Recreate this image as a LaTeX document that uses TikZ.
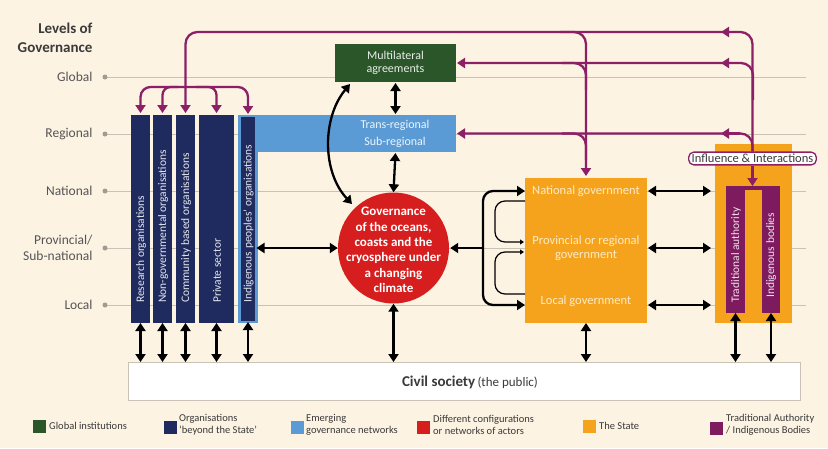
\documentclass[tikz,border=0pt]{standalone}
\usepackage{fontspec}
\setmainfont{Carlito}
\usetikzlibrary{arrows.meta}
\definecolor{cream}{HTML}{FCF3E3}
\definecolor{navy}{HTML}{1F2B5E}
\definecolor{ggreen}{HTML}{2B5629}
\definecolor{lblue}{HTML}{5B9BD5}
\definecolor{cred}{HTML}{D71E1E}
\definecolor{corange}{HTML}{F5A31C}
\definecolor{cpurple}{HTML}{7E1A5E}
\definecolor{mag}{HTML}{8C1F66}
\definecolor{lvline}{HTML}{C9C2B6}
\definecolor{lvtext}{HTML}{555555}
\definecolor{lgtext}{HTML}{3A3A3A}
\definecolor{statetext}{HTML}{FDEBC8}
\begin{document}
\begin{tikzpicture}[x=1pt,y=-1pt,
  box/.style={rectangle, inner sep=0pt, outer sep=0pt, anchor=north west},
  bartext/.style={rotate=90, anchor=west, inner sep=0pt, text=white!88!navy, font=\fontsize{11.5}{13}\selectfont},
  lvlabel/.style={anchor=east, align=right, text=lvtext, font=\fontsize{13.5}{16}\selectfont},
  lvdot/.style={circle, fill=lvline!80!black, inner sep=0pt, minimum size=5pt},
  bb/.style={line width=2.3pt, {Triangle[width=10pt,length=8pt]}-{Triangle[width=10pt,length=8pt]}},
  b1/.style={line width=2.3pt, -{Triangle[width=10pt,length=8pt]}},
  thinarr/.style={line width=1.2pt, -{Triangle[width=5pt,length=4pt]}},
  mg/.style={draw=mag, line width=2.3pt},
  mgA/.style={mg, -{Triangle[width=10pt,length=8pt]}},
  lgsq/.style={rectangle, inner sep=0pt, minimum size=13pt},
  lgtxt/.style={anchor=west, align=left, text=lgtext, inner sep=0pt, font=\fontsize{10.5}{12}\selectfont},
  statetxt/.style={text=statetext, align=center, font=\fontsize{12.5}{13.5}\selectfont}
]
\fill[cream] (0,0) rectangle (828,448);
\useasboundingbox (0,0) rectangle (828,448);

% levels of governance
\node[anchor=east, align=right, text=lgtext, font=\fontsize{15}{19.5}\selectfont\bfseries] (title) at (96,38) {Levels of\\Governance};
\coordinate (Lglobal) at (105,77);
\coordinate (Lreg) at (105,134);
\coordinate (Lnat) at (105,191);
\coordinate (Lprov) at (105,248);
\coordinate (Lloc) at (105,305);
\coordinate (top) at (0,32);
\foreach \c in {Lglobal,Lreg,Lnat,Lprov,Lloc}{
  \draw[lvline, line width=0.9pt] (\c) -- (\c -| 806,0);
  \node[lvdot] at (\c) {};
}
\node[lvlabel] (tglobal) at (96,77) {Global};
\node[lvlabel] (treg) at (96,134) {Regional};
\node[lvlabel] (tnat) at (96,191) {National};
\node[lvlabel] (tprov) at (96,248) {Provincial/\\Sub-national};
\node[lvlabel] (tloc) at (96,305) {Local};

% organisations beyond the state
\node[box, fill=navy, minimum width=19pt, minimum height=208pt] (b1) at (131,115) {};
\node[box, fill=navy, minimum width=19pt, minimum height=208pt] (b2) at (153,115) {};
\node[box, fill=navy, minimum width=19pt, minimum height=208pt] (b3) at (176,115) {};
\node[box, fill=navy, minimum width=35pt, minimum height=208pt] (b4) at (199,115) {};
% emerging networks band
\node[box, fill=lblue, minimum width=218pt, minimum height=37pt] (tr) at (238,115) {};
\node[box, fill=navy, draw=lblue, line width=2.4pt, minimum width=17pt, minimum height=206pt] (b5) at (239.5,116) {};
\node[text=white!90!lblue, align=center, font=\fontsize{12}{17.5}\selectfont] (trtxt) at (395,134) {Trans-regional\\Sub-regional};

\node[bartext] (t1) at (141,303) {Research organisations};
\node[bartext] (t2) at (163,303) {Non-governmental organisations};
\node[bartext] (t3) at (186,303) {Community based organisations};
\node[bartext] (t4) at (217,303) {Private sector};
\node[bartext] (t5) at (248.5,303) {Indigenous peoples' organisations};

% global institutions
\node[box, fill=ggreen, minimum width=121pt, minimum height=38pt] (ma) at (335,44) {};
\node[text=white!90!ggreen, align=center, font=\fontsize{12}{13.5}\selectfont] (matxt) at (ma.center) {Multilateral\\agreements};

% central circle
\node[circle, fill=cred, minimum size=111pt, inner sep=0pt] (circ) at (393.5,248) {};
\node[text=white, align=center, font=\fontsize{13}{15.4}\selectfont\bfseries] (circtxt) at (393.5,250) {Governance\\of the oceans,\\coasts and the\\cryosphere under\\a changing\\climate};

% the state
\node[box, fill=corange, minimum width=122pt, minimum height=145pt] (state) at (525,178) {};
\node[statetxt] (snat) at (586,191) {National government};
\node[statetxt] (sprov) at (586,248) {Provincial or regional\\government};
\node[statetxt] (sloc) at (586,301) {Local government};

% traditional authority / indigenous bodies
\node[box, fill=corange, minimum width=77pt, minimum height=179pt] (trad) at (715,144) {};
\fill[cpurple] (726,186) rectangle (780,190);
\node[box, fill=cpurple, minimum width=19pt, minimum height=127pt] (ta) at (726,186) {};
\node[box, fill=cpurple, minimum width=18pt, minimum height=127pt] (ib) at (762,186) {};
\node[bartext, text=white!88!cpurple] (tta) at (736,303) {Traditional authority};
\node[bartext, text=white!88!cpurple] (tib) at (771,298) {Indigenous bodies};

% civil society
\node[box, fill=white, draw=lvline, line width=0.8pt, minimum width=672pt, minimum height=38pt] (civ) at (128,362) {};
\node[text=lgtext] (civtxt) at (470,382) {{\fontsize{15}{17}\selectfont\bfseries Civil society} {\fontsize{13}{17}\selectfont(the public)}};

% influence network
\node[draw=mag, fill=white, rounded corners=5pt, line width=1.3pt, inner xsep=3pt, inner ysep=2pt, text=lgtext, font=\fontsize{12.5}{14}\selectfont] (infl) at (752.5,158.5) {Influence \& Interactions};

\draw[mgA, rounded corners=12pt, shorten >=2pt] (infl.north) |- (b3.north |- top) -- (b3.north);
\draw[mgA] (740,32) -- (721,32);
\draw[mgA, rounded corners=12pt, shorten >=1pt] (753,100) |- (ma.east);
\draw[mgA] (740,63) -- (721,63);
\draw[mgA, rounded corners=12pt, shorten >=1pt] (infl.north) |- (tr.east);
\draw[mgA] (740,133.5) -- (721,133.5);
\draw[mgA] (infl.south) -- (ta.north -| infl.south);

\draw[mgA, rounded corners=12pt, shorten >=2pt] (560,32) -| (state.north);
\draw[mg, rounded corners=12pt] (562,63) -| (586,90);
\draw[mg, rounded corners=12pt] (562,133.5) -| (586,160);

\draw[mgA, rounded corners=10pt, shorten >=2pt] (186,87) -| (b1.north);
\draw[mgA, rounded corners=10pt, shorten >=2pt] (186,87) -| (b5.north);
\draw[mgA, rounded corners=8pt, shorten >=2pt] (178,87) -| (b2.north);
\draw[mgA, rounded corners=8pt, shorten >=2pt] (196,87) -| (b4.north);

% black connectors
\draw[bb, shorten <=1pt, shorten >=1pt] (ma.south) -- (ma.south |- tr.north);
\draw[bb, shorten <=1pt] (ma.south |- tr.south) -- (circ.north);
\draw[bb] (350,84) .. controls (322,118) and (322,172) .. (352,204);
\draw[bb] (b5.east |- Lprov) -- (circ.west);
\draw[bb] (circ.south) -- (circ.south |- civ.north);

\coordinate (br) at (483,248);
\draw[b1, rounded corners=10pt] (br) |- (state.west |- Lnat);
\draw[b1, rounded corners=10pt] (br) |- (state.west |- Lloc);
\draw[b1, shorten >=1pt] (br) -- (circ.east);
\draw[thinarr, rounded corners=10pt] (525,201) -| (495,222) |- (524,242);
\draw[thinarr, rounded corners=10pt] (525,294) -| (495,272) |- (524,252);

\foreach \b in {b1,b2,b3,b4,b5,state,ta,ib}{
  \draw[bb] (\b.south) -- (\b.south |- civ.north);
}
\foreach \c in {Lnat,Lprov,Lloc}{
  \draw[bb, shorten <=1pt, shorten >=4pt] (state.east |- \c) -- (trad.west |- \c);
}

% legend
\node[lgsq, fill=ggreen] (lg1) at (39.5,426) {};
\node[lgtxt] (lgt1) at (49,426) {Global institutions};
\node[lgsq, fill=navy] (lg2) at (170,427) {};
\node[lgtxt] (lgt2) at (179,425) {Organisations\\`beyond the State'};
\node[lgsq, fill=lblue] (lg3) at (297,427) {};
\node[lgtxt] (lgt3) at (306,425) {Emerging\\governance networks};
\node[lgsq, fill=cred] (lg4) at (423.5,427) {};
\node[lgtxt] (lgt4) at (433,425) {Different configurations\\or networks of actors};
\node[lgsq, fill=corange] (lg5) at (589.5,426) {};
\node[lgtxt] (lgt5) at (599,426) {The State};
\node[lgsq, fill=cpurple] (lg6) at (716,428) {};
\node[lgtxt] (lgt6) at (726,425) {Traditional Authority\\/ Indigenous Bodies};
\end{tikzpicture}
\end{document}
